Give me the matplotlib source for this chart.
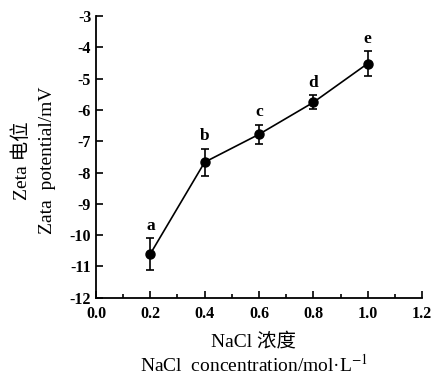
import matplotlib
matplotlib.use("Agg")
import matplotlib.pyplot as plt
from matplotlib.ticker import MultipleLocator

conc = [0.2, 0.4, 0.6, 0.8, 1.0]
zeta = [-10.6, -7.67, -6.78, -5.76, -4.52]
err = [0.5, 0.43, 0.3, 0.22, 0.39]
letters = ["a", "b", "c", "d", "e"]

serif = ["Liberation Serif", "Noto Sans CJK SC", "DejaVu Sans"]
plt.rcParams['font.family'] = serif
plt.rcParams['axes.unicode_minus'] = False
plt.rcParams['mathtext.fontset'] = 'stix'

fig = plt.figure(figsize=(4.33, 3.77), dpi=100)
ax = fig.add_axes([0.2217, 0.2103, 0.7529, 0.7473])

ax.errorbar(conc, zeta, yerr=err, color="black", marker="o", markersize=6.5,
            linewidth=1.2, elinewidth=1.2, capsize=3, capthick=1.2)
for x, y, e, t in zip(conc, zeta, err, letters):
    ax.text(x, y + e + 0.15, t, ha="center", va="bottom", fontsize=12.5,
            fontweight="bold")

ax.set_xlim(0.0, 1.2)
ax.set_ylim(-12, -3)
ax.xaxis.set_major_locator(MultipleLocator(0.2))
ax.xaxis.set_minor_locator(MultipleLocator(0.1))
ax.yaxis.set_major_locator(MultipleLocator(1))
ax.spines["top"].set_visible(False)
ax.spines["right"].set_visible(False)
for s in ("left", "bottom"):
    ax.spines[s].set_linewidth(1.3)
ax.tick_params(which="both", direction="in", width=1.2)
ax.tick_params(which="major", length=5, labelsize=11.5)
ax.tick_params(which="minor", length=3)
ax.tick_params(axis="x", pad=6)
ax.set_xticklabels([f"{v:.1f}" for v in ax.get_xticks()])
for lab in ax.get_xticklabels() + ax.get_yticklabels():
    lab.set_fontweight("bold")

fig.text(0.5866, 0.093, "NaCl 浓度", ha="center", va="center", fontsize=14)
fig.text(0.5866, 0.032, "NaCl  concentration/mol·L$^{-1}$", ha="center",
         va="center", fontsize=14)
fig.text(0.051, 0.573, "Zeta 电位", ha="center", va="center", fontsize=14,
         rotation=90)
fig.text(0.109, 0.575, "Zata  potential/mV", ha="center", va="center",
         fontsize=14, rotation=90)

fig.savefig("out.png", dpi=100)
